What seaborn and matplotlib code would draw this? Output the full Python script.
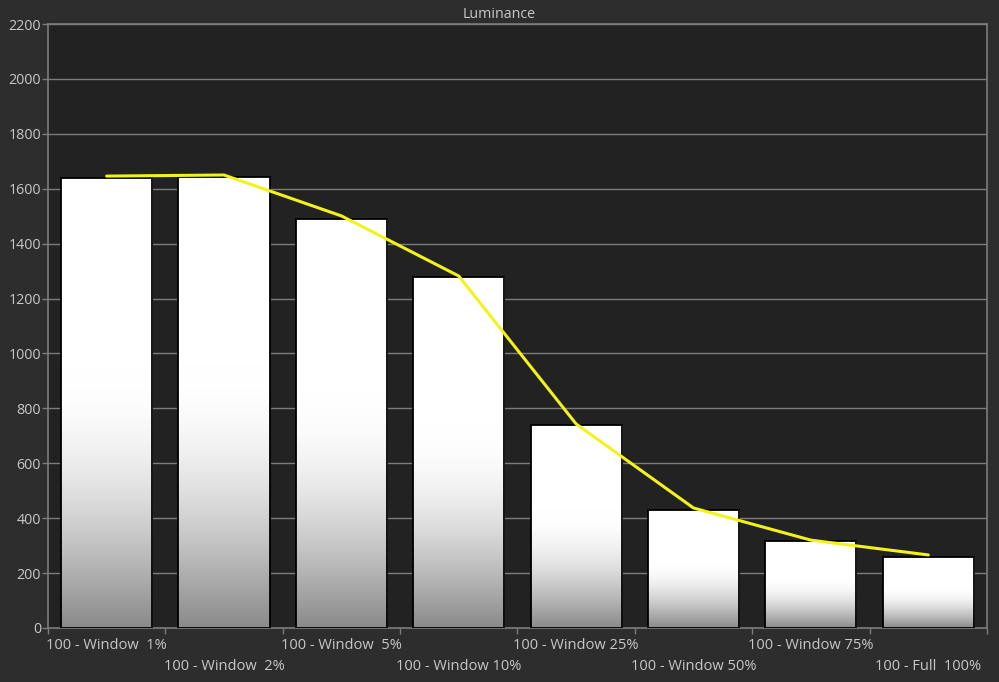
import numpy as np
import pandas as pd
import matplotlib
matplotlib.use("Agg")
import matplotlib.pyplot as plt
import seaborn as sns
from matplotlib.ticker import MultipleLocator, FixedLocator

categories = ["100 - Window  1%", "100 - Window  2%", "100 - Window  5%", "100 - Window 10%",
              "100 - Window 25%", "100 - Window 50%", "100 - Window 75%", "100 - Full  100%"]
bar_values = [1639, 1643, 1490, 1278, 739, 428, 317, 259]
line_values = [1646, 1650, 1501, 1282, 743, 437, 320, 266]
title = "Luminance"

sns.set_style("dark")
plt.rcParams['font.family'] = ['Open Sans', 'DejaVu Sans']

fig_bg = "#2d2d2d"
ax_bg = "#222222"
grid_c = "#7c7c7c"
text_c = "#c8c8c8"

fig = plt.figure(figsize=(9.99, 6.82), dpi=100, facecolor=fig_bg)
ax = fig.add_axes([0.048, 0.0792, 0.940, 0.8856])
ax.set_facecolor(ax_bg)

df = pd.DataFrame({"cat": categories, "val": bar_values})
sns.barplot(data=df, x="cat", y="val", order=categories, color="white",
            width=0.776, edgecolor="black", linewidth=1.3, saturation=1, ax=ax, zorder=3)

# vertical gradient on each bar (white top, gray bottom over lower ~58%)
t = np.linspace(0, 1, 512)  # 0 at bottom, 1 at top
frac = 0.58
u = np.clip(t / frac, 0, 1)
vals = 0.54 + 0.46 * np.sin(np.pi / 2 * u)
grad = np.dstack([vals[:, None]] * 3)
for p in ax.patches:
    x0, y0 = p.get_x(), p.get_y()
    w, h = p.get_width(), p.get_height()
    im = ax.imshow(grad, origin="lower", aspect="auto",
                   extent=[x0, x0 + w, y0, y0 + h], zorder=3.5, interpolation="bilinear")
    im.set_clip_path(p)

edges = [plt.Rectangle((p.get_x(), p.get_y()), p.get_width(), p.get_height(),
                       fill=False, edgecolor="black", linewidth=1.3, zorder=4) for p in ax.patches]
for e in edges:
    ax.add_patch(e)

sns.lineplot(x=np.arange(len(line_values)), y=line_values, color="#f2f21c", linewidth=2.2,
             ax=ax, zorder=5)

ax.set_xlim(-0.5, len(categories) - 0.5)
ax.set_ylim(0, 2200)
ax.yaxis.set_major_locator(MultipleLocator(200))
ax.grid(axis="y", color=grid_c, linewidth=1.0, zorder=1)
ax.grid(axis="x", visible=False)
ax.set_axisbelow(True)

ax.set_xlabel("")
ax.set_ylabel("")
ax.set_xticks(np.arange(len(categories)))
ax.set_xticklabels(categories)
ax.xaxis.set_minor_locator(FixedLocator(np.arange(-0.5, len(categories), 1.0)))
ax.tick_params(axis="x", which="major", length=0, colors=text_c, labelsize=10.5, pad=7.5)
ax.tick_params(axis="x", which="minor", length=4, width=1, color=grid_c, bottom=True)
ax.tick_params(axis="y", which="major", length=4, width=1, color=grid_c, labelcolor=text_c,
               labelsize=10.3, pad=1, left=True)
for i, tk in enumerate(ax.xaxis.get_major_ticks()):
    if i % 2 == 1:
        tk.set_pad(22)

for s in ["left", "bottom", "right", "top"]:
    ax.spines[s].set_visible(True)
    ax.spines[s].set_color(grid_c)
    ax.spines[s].set_linewidth(1.2)

fig.text(0.5, 0.979, title, ha="center", va="center", color=text_c, fontsize=10.3)

fig.savefig("out.png", dpi=100, facecolor=fig_bg)
